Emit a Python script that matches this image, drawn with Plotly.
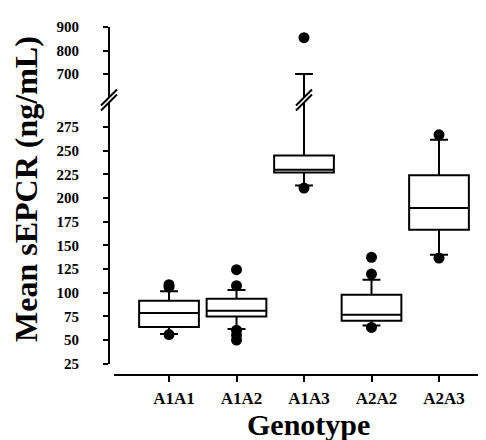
import plotly.graph_objects as go

# ---- data ----
genotypes = ["A1A1", "A1A2", "A1A3", "A2A2", "A2A3"]
q1_vals = [63.8, 75.0, 227.0, 70.4, 166.5]
median_vals = [78.5, 81.0, 230.0, 76.7, 189.4]
q3_vals = [91.5, 93.6, 245.0, 97.9, 224.0]
lower_whisker = [56.4, 61.6, 213.4, 65.5, 140.0]
upper_whisker = [101.5, 103.0, 700.0, 113.7, 261.5]

outlier_geno = ["A1A1", "A1A1", "A1A1",
                "A1A2", "A1A2", "A1A2", "A1A2", "A1A2",
                "A1A3", "A1A3",
                "A2A2", "A2A2", "A2A2",
                "A2A3", "A2A3"]
outlier_vals = [106.0, 108.5, 55.8,
                107.4, 124.3, 60.5, 55.3, 50.0,
                855.0, 210.5,
                119.7, 137.4, 63.4,
                266.8, 136.6]

lower_ticks = [25, 50, 75, 100, 125, 150, 175, 200, 225, 250, 275]
upper_ticks = [700, 800, 900]

FONT = "Liberation Serif"

fig = go.Figure()

for xa, ya in [("x", "y"), ("x2", "y2")]:
    fig.add_trace(go.Box(
        x=genotypes, q1=q1_vals, median=median_vals, q3=q3_vals,
        lowerfence=lower_whisker, upperfence=upper_whisker,
        width=0.885, whiskerwidth=0.3,
        line=dict(color="black", width=2), fillcolor="white",
        boxpoints=False, showlegend=False, xaxis=xa, yaxis=ya,
        hoverinfo="skip"))
    fig.add_trace(go.Scatter(
        x=outlier_geno, y=outlier_vals, mode="markers",
        marker=dict(color="black", size=11),
        showlegend=False, xaxis=xa, yaxis=ya, hoverinfo="skip"))

BREAK = 0.790
common_y = dict(showgrid=False, zeroline=False, showline=True, linecolor="black",
                linewidth=2, ticks="outside", ticklen=5, tickwidth=2,
                tickcolor="black", anchor="free", position=0, shift=-5,
                tickfont=dict(family=FONT, size=15, color="black", weight=700),
                ticklabelstandoff=21)

fig.update_layout(
    width=486, height=440,
    font=dict(family=FONT, color="black", weight=700),
    margin=dict(l=106, r=6, t=19, b=73),
    paper_bgcolor="white", plot_bgcolor="white",
    xaxis=dict(type="category", categoryorder="array", categoryarray=genotypes,
               range=[-0.815, 4.726], showgrid=False, zeroline=False,
               showline=True, linecolor="black", linewidth=2,
               ticks="outside", ticklen=6, tickwidth=1.5, tickcolor="black",
               anchor="free", position=0,
               tickfont=dict(family=FONT, size=17, color="black", weight=700),
               ticklabelstandoff=2, ticklabelshift=5),
    xaxis2=dict(matches="x", type="category", visible=False, anchor="y2",
                range=[-0.815, 4.726]),
    yaxis=dict(domain=[0.0302, BREAK], range=[24.2, 303.5],
               tickvals=lower_ticks, **common_y),
    yaxis2=dict(domain=[BREAK, 1.0], range=[589.4, 900.5],
                tickvals=upper_ticks, **common_y),
)

# axis titles
fig.add_annotation(text="Mean sEPCR (ng/mL)", xref="paper", yref="paper",
                   x=-0.235, y=0.535, textangle=-90, showarrow=False,
                   xanchor="center", yanchor="middle",
                   font=dict(family=FONT, size=32, color="black", weight=700))
fig.add_annotation(text="Genotype", xref="paper", yref="paper",
                   x=0.521, y=-0.142, showarrow=False,
                   xanchor="center", yanchor="middle",
                   font=dict(family=FONT, size=30, color="black", weight=700))

# break marks "//" on y axis and on the A1A3 whisker
def break_mark(xref, xanchor, xoff):
    gap = (f"M {xoff-8},-5.5 L {xoff+8},10.5 L {xoff+8},5.5 L {xoff-8},-10.5 Z")
    l1 = f"M {xoff-8},-5.5 L {xoff+8},10.5"
    l2 = f"M {xoff-8},-10.5 L {xoff+8},5.5"
    base = dict(xref=xref, yref="paper", xsizemode="pixel", ysizemode="pixel",
                xanchor=xanchor, yanchor=BREAK, layer="above")
    fig.add_shape(type="path", path=gap, fillcolor="white",
                  line=dict(width=0), **base)
    fig.add_shape(type="path", path=l1, line=dict(color="black", width=2), **base)
    fig.add_shape(type="path", path=l2, line=dict(color="black", width=2), **base)

break_mark("paper", 0, -5)
break_mark("x", 2, 0)

fig.write_html("out.html")
